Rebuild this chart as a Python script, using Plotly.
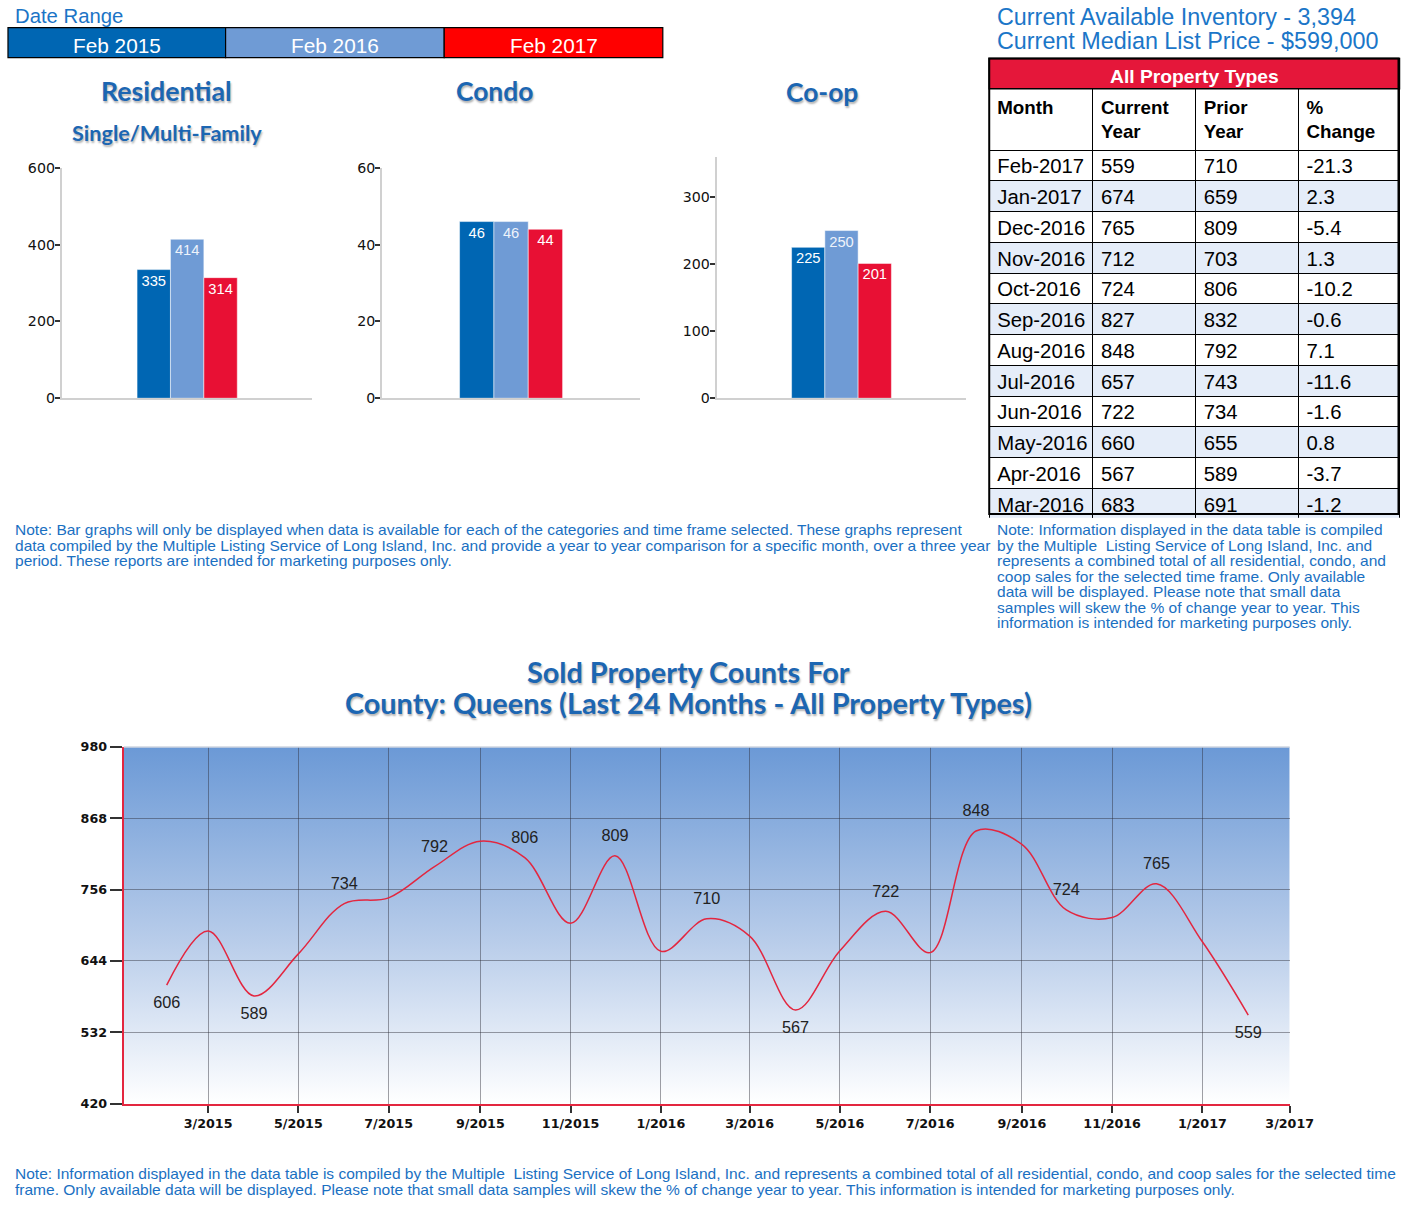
import base64
import plotly.graph_objects as go

# The photographed page appears scaled by ~0.985 and shifted down ~8.5px;
# lay the figure out in reference-pixel terms and compensate.
S = 0.985
OY = 8.5
FW = 1432
FH = 1218


def fx(p):
    return (p / S) / FW


def fy(p):
    return 1 - ((p - OY) / S) / FH


def fs(v):
    return v / S


# ---------------- data ----------------
periods = ["Feb 2015", "Feb 2016", "Feb 2017"]
bar_colors = ["#0066b3", "#6f9bd5", "#e81034"]
legend_colors = ["#0066b3", "#6f9bd5", "#ff0000"]
bar_text_colors = ["#ffffff", "#eef3fb", "#ffffff"]

residential = [335, 414, 314]
condo = [46, 46, 44]
coop = [225, 250, 201]

line_months = [
    "2015-02-01", "2015-03-01", "2015-04-01", "2015-05-01", "2015-06-01",
    "2015-07-01", "2015-08-01", "2015-09-01", "2015-10-01", "2015-11-01",
    "2015-12-01", "2016-01-01", "2016-02-01", "2016-03-01", "2016-04-01",
    "2016-05-01", "2016-06-01", "2016-07-01", "2016-08-01", "2016-09-01",
    "2016-10-01", "2016-11-01", "2016-12-01", "2017-01-01", "2017-02-01",
]
sold_counts = [606, 691, 589, 655, 734, 743, 792, 832, 806, 703, 809, 659,
               710, 683, 567, 660, 722, 657, 848, 827, 724, 712, 765, 674, 559]
point_labels = ["606", "", "589", "", "734", "", "792", "", "806", "", "809", "",
                "710", "", "567", "", "722", "", "848", "", "724", "", "765", "", "559"]
label_positions = ["bottom center", "top center", "bottom center", "top center",
                   "top center", "top center", "top center", "top center",
                   "top center", "top center", "top center", "top center",
                   "top center", "top center", "bottom center", "top center",
                   "top center", "top center", "top center", "top center",
                   "top center", "top center", "top center", "top center",
                   "bottom center"]
line_y_ticks = [420, 532, 644, 756, 868, 980]

table_months = ["Feb-2017", "Jan-2017", "Dec-2016", "Nov-2016", "Oct-2016", "Sep-2016",
                "Aug-2016", "Jul-2016", "Jun-2016", "May-2016", "Apr-2016", "Mar-2016"]
table_current = [559, 674, 765, 712, 724, 827, 848, 657, 722, 660, 567, 683]
table_prior = [710, 659, 809, 703, 806, 832, 792, 743, 734, 655, 589, 691]
table_change = ["-21.3", "2.3", "-5.4", "1.3", "-10.2", "-0.6", "7.1", "-11.6",
                "-1.6", "0.8", "-3.7", "-1.2"]
table_headers = ["<b>Month</b>", "<b>Current<br>Year</b>", "<b>Prior<br>Year</b>",
                 "<b>%<br>Change</b>"]

left_note = [
    "Note: Bar graphs will only be displayed when data is available for each of the categories and time frame selected. These graphs represent",
    "data compiled by the Multiple Listing Service of Long Island, Inc. and provide a year to year comparison for a specific month, over a three year",
    "period. These reports are intended for marketing purposes only.",
]
right_note = [
    "Note: Information displayed in the data table is compiled",
    "by the Multiple  Listing Service of Long Island, Inc. and",
    "represents a combined total of all residential, condo, and",
    "coop sales for the selected time frame. Only available",
    "data will be displayed. Please note that small data",
    "samples will skew the % of change year to year. This",
    "information is intended for marketing purposes only.",
]
bottom_note = [
    "Note: Information displayed in the data table is compiled by the Multiple  Listing Service of Long Island, Inc. and represents a combined total of all residential, condo, and coop sales for the selected time",
    "frame. Only available data will be displayed. Please note that small data samples will skew the % of change year to year. This information is intended for marketing purposes only.",
]

# ---------------- styles ----------------
ARIAL = "Liberation Sans, Arial, sans-serif"
TITLE_FONT = "Lato, Open Sans, sans-serif"
TICK_FONT = "DejaVu Sans, Verdana, sans-serif"
BLUE_TEXT = "#1a70c2"
TITLE_BLUE = "#1c66b2"
SHADOW = "1px 2px 2px rgba(0,0,0,0.30)"

fig = go.Figure()

# ---------------- bar charts ----------------
bar_sets = [("x", "y", "Residential", residential),
            ("x2", "y2", "Condo", condo),
            ("x3", "y3", "Co-op", coop)]
for xa, ya, cat, vals in bar_sets:
    for i in range(3):
        fig.add_trace(go.Bar(
            x=[cat], y=[vals[i]], name=periods[i], xaxis=xa, yaxis=ya,
            marker=dict(color=bar_colors[i], line=dict(color="rgba(255,255,255,0.5)", width=1)),
            text=[str(vals[i])], textposition="inside", insidetextanchor="end",
            textfont=dict(family=ARIAL, size=fs(14.5), color=bar_text_colors[i]),
            offsetgroup=str(i), showlegend=False, hoverinfo="skip",
            cliponaxis=False,
        ))

bar_axis_common = dict(showgrid=False, zeroline=False, showline=True,
                       linecolor="#d0d0d0", linewidth=2, ticks="outside",
                       ticklen=fs(5), tickwidth=1.5, tickcolor="#333",
                       ticklabelstandoff=-3,
                       tickfont=dict(family=TICK_FONT, size=fs(14), color="#111"))
xbar_common = dict(showgrid=False, zeroline=False, showline=True,
                   linecolor="#d0d0d0", linewidth=2, showticklabels=False, ticks="",
                   fixedrange=True)

bar_domains = [([62, 313], [398, 168], [0, 600], [0, 200, 400, 600]),
               ([383, 641], [398, 168], [0, 60], [0, 20, 40, 60]),
               ([718, 968], [398, 157], [0, 360], [0, 100, 200, 300])]

layout_axes = {}
for k, (xd, yd, yr, tv) in enumerate(bar_domains):
    sfx = "" if k == 0 else str(k + 1)
    layout_axes["xaxis" + sfx] = dict(domain=[fx(xd[0]), fx(xd[1])], anchor="y" + sfx, **xbar_common)
    layout_axes["yaxis" + sfx] = dict(domain=[fy(yd[0]), fy(yd[1])], anchor="x" + sfx,
                                      range=yr, tickvals=tv, **bar_axis_common)

# ---------------- line chart ----------------
fig.add_trace(go.Scatter(
    x=line_months, y=sold_counts, xaxis="x4", yaxis="y4", mode="lines+markers+text",
    line=dict(color="#e3263f", width=1.5, shape="spline", smoothing=1.0),
    marker=dict(size=fs(15), color="rgba(0,0,0,0)", line=dict(width=0)),
    text=point_labels, textposition=label_positions,
    textfont=dict(family=ARIAL, size=fs(16), color="#222"),
    showlegend=False, hoverinfo="skip", cliponaxis=False,
))

grid_col = "rgba(45,45,55,0.45)"
layout_axes["xaxis4"] = dict(
    domain=[fx(124), fx(1292)], anchor="y4", type="date",
    range=["2015-01-03", "2017-03-01"], tick0="2015-03-01", dtick="M2",
    tickformat="%-m/%Y", showgrid=True, gridcolor=grid_col, gridwidth=1,
    showline=True, linecolor="#e3263f", linewidth=2, zeroline=False,
    ticks="outside", ticklen=fs(7), tickwidth=1.5, tickcolor="#333",
    tickfont=dict(family=TICK_FONT, size=fs(12.5), color="#111", weight="bold"),
)
layout_axes["yaxis4"] = dict(
    domain=[fy(1102), fy(746)], anchor="x4", range=[420, 980],
    tickvals=line_y_ticks, showgrid=True, gridcolor=grid_col, gridwidth=1,
    showline=True, linecolor="#e3263f", linewidth=2, zeroline=False,
    ticks="outside", ticklen=fs(12), tickwidth=1.5, tickcolor="#333",
    tickfont=dict(family=TICK_FONT, size=fs(12.5), color="#111", weight="bold"),
)

# gradient background for line chart area
svg = ('<svg xmlns="http://www.w3.org/2000/svg" width="100" height="100" preserveAspectRatio="none">'
       '<defs><linearGradient id="g" x1="0" y1="0" x2="0" y2="1">'
       '<stop offset="0" stop-color="#6b99d6"/><stop offset="0.55" stop-color="#b9cdea"/>'
       '<stop offset="1" stop-color="#ffffff"/></linearGradient></defs>'
       '<rect width="100" height="100" fill="url(#g)"/></svg>')
svg_src = "data:image/svg+xml;base64," + base64.b64encode(svg.encode()).decode()

images = [dict(source=svg_src, xref="paper", yref="paper", x=fx(124), y=fy(746),
               sizex=fx(1292) - fx(124), sizey=fy(746) - fy(1102),
               xanchor="left", yanchor="top", sizing="stretch", layer="below")]

# ---------------- table ----------------
row_fills = ["#ffffff" if i % 2 == 0 else "#e5edf9" for i in range(len(table_months))]
fig.add_trace(go.Table(
    domain=dict(x=[fx(991), fx(1402)], y=[fy(518), fy(89)]),
    columnwidth=[104, 103, 103, 101],
    header=dict(values=table_headers, fill_color="white",
                line=dict(color="black", width=1), align="left", height=fs(54),
                font=dict(family=ARIAL, size=fs(18.5), color="black")),
    cells=dict(values=[table_months, table_current, table_prior, table_change],
               fill_color=[row_fills] * 4, line=dict(color="black", width=1),
               align="left", height=fs(30.3),
               font=dict(family=ARIAL, size=fs(20), color="black")),
))

shapes = []
annotations = []


def ann(text, x, y, size, color, family=ARIAL, xanchor="center", weight="normal", shadow=None):
    f = dict(family=family, size=fs(size), color=color, weight=weight)
    if shadow:
        f["shadow"] = shadow
    annotations.append(dict(text=text, x=fx(x), y=fy(y), xref="paper", yref="paper",
                            xanchor=xanchor, yanchor="middle", showarrow=False, font=f))


# table title bar and outer frame
shapes.append(dict(type="rect", xref="paper", yref="paper", x0=fx(991), x1=fx(1402),
                   y0=fy(89), y1=fy(59), fillcolor="#e5173a",
                   line=dict(color="black", width=1.5), layer="above"))
shapes.append(dict(type="rect", xref="paper", yref="paper", x0=fx(991), x1=fx(1401),
                   y0=fy(513.5), y1=fy(59), fillcolor="rgba(0,0,0,0)",
                   line=dict(color="black", width=2), layer="above"))
ann("<b>All Property Types</b>", 1197, 77, 19, "white")

# date range legend
ann("Date Range", 13, 16, 20, "#1b74c6", xanchor="left")
box_edges = [8, 226, 445, 664]
for i in range(3):
    shapes.append(dict(type="rect", xref="paper", yref="paper",
                       x0=fx(box_edges[i]), x1=fx(box_edges[i + 1]), y0=fy(58), y1=fy(28),
                       fillcolor=legend_colors[i], line=dict(color="black", width=1.2)))
    ann(periods[i], (box_edges[i] + box_edges[i + 1]) / 2, 46, 20.5, "white")

# inventory text
ann("Current Available Inventory - 3,394", 997, 17, 23, "#1b76c8", xanchor="left")
ann("Current Median List Price - $599,000", 997, 41, 23, "#1b76c8", xanchor="left")

# bar chart titles
for txt, x, y, size in [("Residential", 167, 91, 26.3), ("Condo", 495, 91, 26),
                        ("Co-op", 823, 92, 26), ("Single/Multi-Family", 167, 133, 21.3)]:
    ann(txt, x, y, size, TITLE_BLUE, family=TITLE_FONT, weight="bold", shadow=SHADOW)

# line chart title
ann("Sold Property Counts For", 690, 671, 28.4, TITLE_BLUE, family=TITLE_FONT,
    weight="bold", shadow=SHADOW)
ann("County: Queens (Last 24 Months - All Property Types)", 690, 702, 28.4, TITLE_BLUE,
    family=TITLE_FONT, weight="bold", shadow=SHADOW)

# top border of line chart
shapes.append(dict(type="line", xref="paper", yref="paper", x0=fx(124), x1=fx(1292),
                   y0=fy(746), y1=fy(746), line=dict(color="#cfd6e0", width=1.5)))


def add_lines(lines, x, y0, step):
    for j, t in enumerate(lines):
        ann(t, x, y0 + j * step, 15.3, BLUE_TEXT, xanchor="left")


add_lines(left_note, 13, 529, 15.6)
add_lines(right_note, 997, 529, 15.5)
add_lines(bottom_note, 13, 1172, 15.6)

fig.update_layout(
    width=FW, height=FH, margin=dict(l=0, r=0, t=0, b=0),
    paper_bgcolor="white", plot_bgcolor="rgba(0,0,0,0)",
    barmode="group", bargap=0.6, bargroupgap=0,
    showlegend=False, shapes=shapes, annotations=annotations, images=images,
    **layout_axes,
)

page_fix = (
    "var d=document.documentElement,b=document.body;"
    "d.style.margin='0';b.style.margin='0';d.style.padding='0';b.style.padding='0';"
    "d.style.overflow='hidden';b.style.overflow='hidden';"
    "var gd=document.getElementById('{plot_id}');"
    "gd.style.position='absolute';gd.style.left='0px';gd.style.top='0px';"
)

fig.write_html("out.html", post_script=page_fix, config={"displayModeBar": False})
